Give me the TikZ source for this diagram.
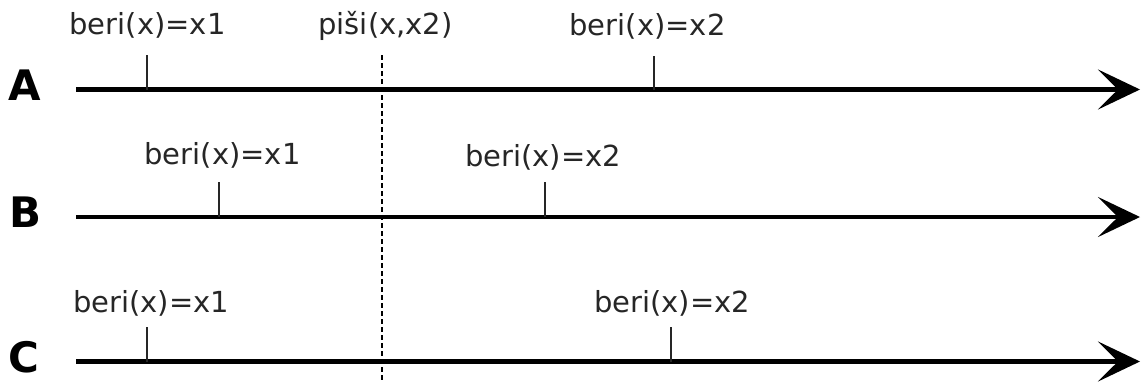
\documentclass[tikz,border=0pt]{standalone}
\usepackage{fontspec}
\setmainfont{DejaVu Sans}
\usetikzlibrary{arrows.meta}
\begin{document}
\begin{tikzpicture}[x=1pt,y=-1pt,
  timeline/.style={line width=4.2pt, -{Stealth[length=42pt,width=40pt,inset=20pt]}},
  tickline/.style={line width=1.5pt, draw=black!85},
  lbl/.style={anchor=base, inner sep=0pt, font=\fontsize{29}{34}\selectfont, text=black!85},
  proc/.style={anchor=base, inner sep=0pt, font=\fontsize{42}{50}\selectfont\bfseries},
  sync/.style={line width=1.3pt, dash pattern=on 5pt off 3pt}]
\useasboundingbox (0,0) rectangle (1141,381);

% process letters
\node[proc] (pA) at (25,100) {A};
\node[proc] (pB) at (26,227) {B};
\node[proc] (pC) at (24,372) {C};

% timelines
\coordinate (As) at (76,89.5);  \coordinate (Ae) at (1140,89.5);
\coordinate (Bs) at (76,217);   \coordinate (Be) at (1140,217);
\coordinate (Cs) at (76,361.5); \coordinate (Ce) at (1140,361.5);
\draw[timeline] (As) -- (Ae);
\draw[timeline] (Bs) -- (Be);
\draw[timeline] (Cs) -- (Ce);

% tick tops
\coordinate (tA1) at (147,55);
\coordinate (tA2) at (654,56);
\coordinate (tB1) at (219,182);
\coordinate (tB2) at (545,182);
\coordinate (tC1) at (147,327);
\coordinate (tC2) at (671,327);
\draw[tickline] (tA1) -- (tA1 |- As);
\draw[tickline] (tA2) -- (tA2 |- As);
\draw[tickline] (tB1) -- (tB1 |- Bs);
\draw[tickline] (tB2) -- (tB2 |- Bs);
\draw[tickline] (tC1) -- (tC1 |- Cs);
\draw[tickline] (tC2) -- (tC2 |- Cs);

% write event
\coordinate (wTop) at (382,55);
\coordinate (wBot) at (382,381);
\draw[sync] (wTop) -- (wBot);

% labels
\node[lbl] (lA1) at (147.5,34.5) {beri(x)=x1};
\node[lbl] (lW)  at (385.5,34.5) {piši(x,x2)};
\node[lbl] (lA2) at (647.5,35)   {beri(x)=x2};
\node[lbl] (lB1) at (222.5,164)  {beri(x)=x1};
\node[lbl] (lB2) at (543,166)    {beri(x)=x2};
\node[lbl] (lC1) at (151,312)    {beri(x)=x1};
\node[lbl] (lC2) at (672,312)    {beri(x)=x2};
\end{tikzpicture}
\end{document}
